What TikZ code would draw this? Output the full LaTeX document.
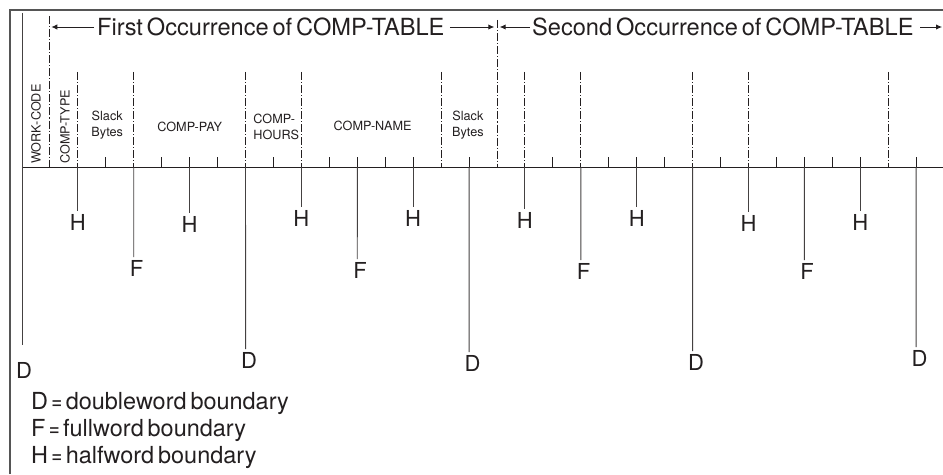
\documentclass[tikz,border=0pt]{standalone}
\usepackage{fontspec}
\setmainfont{TeX Gyre Heros}[WordSpace=0.6]
\usetikzlibrary{arrows.meta}
\definecolor{ink}{HTML}{231F20}
\definecolor{rule}{HTML}{555555}
\newcommand{\hdfont}{\fontsize{17.7}{20}\selectfont}
\newcommand{\lblfont}{\fontsize{16.5}{19}\selectfont}
\newcommand{\keyfont}{\fontsize{17.6}{20}\selectfont}
\newcommand{\fldfont}{\fontsize{9.5}{11.5}\selectfont}
\newcommand{\keyeq}{\hspace{2.5pt}\scalebox{0.8}[1]{=}\hspace{2.5pt}}

\begin{document}
\begin{tikzpicture}[x=20.955pt, y=-0.75pt,
        fld/.style={font=\fldfont, text=ink, inner sep=0pt, align=center},
        bnd/.style={font=\lblfont, text=ink, inner sep=2pt},
        key/.style={font=\keyfont, text=ink, inner sep=0pt, anchor=west},
        hdr/.style={font=\hdfont, text=ink, inner sep=0pt, anchor=west},
        tick/.style={draw=ink, line width=0.7pt},
        sep/.style={draw=ink, line width=0.7pt,
                    dash pattern=on 6pt off 1.5pt on 0.8pt off 1.5pt},
        drop/.style={draw=ink!85, line width=0.7pt},
        arr/.style={draw=ink, line width=0.7pt,
                    -{Latex[length=4.5pt,width=4pt]}}
    ]
    \useasboundingbox (-0.7874,0) rectangle (32.963,474);

    % Frame
    \draw[draw=rule, line width=0.8pt] (-0.4295,474) -- (-0.4295,10) -- (32.963,10);

    % ---- Byte ruler ----
    \draw[tick] (0,167) -- (32.963,167);
    \foreach \k in {3,5,6,7,9,11,12,13,14,16,19,21,22,23,25,27,28,29,30,32}
        \draw[tick] (\k,157) -- (\k,167);

    % ---- Field separators ----
    \coordinate (s1) at (1,16);
    \coordinate (s17) at (17,20);
    \draw[sep] (s1) -- (1,167);
    \draw[sep] (s17) -- (17,167);
    \foreach \k in {2,4,8,10,15,18,20,24,26,31}
        \draw[sep] (\k,72) -- (\k,167);

    % ---- Occurrence headers ----
    \node[hdr] (first) at (2.68,27) {First Occurrence of COMP-TABLE};
    \node[hdr] (second) at (18.25,27) {Second Occurrence of COMP-TABLE};
    \coordinate (tail) at (32.93,26);
    \draw[arr, shorten <=2pt, shorten >=1pt] (first.west) -- (first.west -| s1);
    \draw[arr, shorten <=4pt, shorten >=2pt] (first.east) -- (first.east -| s17);
    \draw[arr, shorten <=1.5pt, shorten >=2pt] (second.west) -- (second.west -| s17);
    \draw[arr, shorten <=5pt] (second.east) -- (second.east -| tail);

    % ---- Field names ----
    \node[fld, rotate=90, anchor=west] (wcode) at (0.5,164) {WORK-CODE};
    \node[fld, rotate=90, anchor=west] (ctype) at (1.54,164) {COMP-TYPE};
    \node[fld] (slack1) at (3.05,125) {Slack\\Bytes};
    \node[fld] (cpay) at (6,127) {COMP-PAY};
    \node[fld, align=left] (chours) at (9.1,127) {COMP-\\HOURS};
    \node[fld] (cname) at (12.55,126) {COMP-NAME};
    \node[fld] (slack2) at (15.96,125) {Slack\\Bytes};

    % ---- Halfword boundaries ----
    \foreach \k/\y [count=\i] in {2/222, 6/224, 10/218, 14/218, 18/220, 22/218, 26/223, 30/222} {
        \node[bnd] (h\i) at (\k,\y) {H};
        \draw[drop] (\k,167) -- (h\i.north);
    }

    % ---- Fullword boundaries ----
    \foreach \k/\y [count=\i] in {4/268, 12/270, 20/271, 28/271} {
        \node[bnd] (f\i) at (\k+0.1,\y) {F};
        \draw[drop] (\k,167) -- ([xshift=-2.1pt]f\i.north);
    }

    % ---- Doubleword boundaries ----
    \node[bnd] (d0) at (0.07,370) {D};
    \draw[drop] (0,13) -- (0,345);
    \foreach \k/\y [count=\i] in {8/360, 16/363, 24/362, 32/358} {
        \node[bnd] (d\i) at (\k+0.125,\y) {D};
        \draw[drop] (\k,167) -- ([xshift=-2.6pt]d\i.north);
    }

    % ---- Key ----
    \node[key] (keyd) at (0.32,403) {D\keyeq doubleword boundary};
    \node[key] (keyf) at (0.32,430) {F\keyeq fullword boundary};
    \node[key] (keyh) at (0.32,457) {H\keyeq halfword boundary};
\end{tikzpicture}
\end{document}
